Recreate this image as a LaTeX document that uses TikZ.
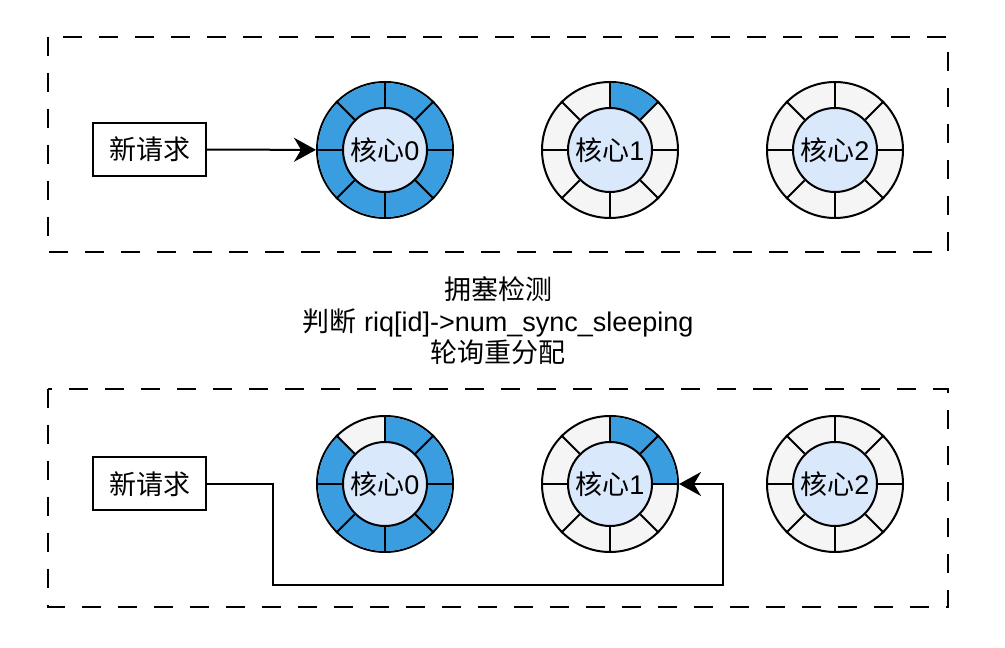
\documentclass[tikz,border=0pt]{standalone}
\usepackage{fontspec}
\setmainfont{Liberation Sans}
\newfontfamily\cjk{Noto Sans CJK SC}
\usetikzlibrary{arrows.meta,positioning}
\definecolor{coreblue}{RGB}{58,157,224}
\definecolor{ringgray}{RGB}{245,245,245}
\definecolor{hubblue}{RGB}{218,232,252}
\newcommand{\zh}[1]{{\cjk #1}}
\tikzset{tipflow/.tip={Stealth[length=22pt 0,width=24pt 0,inset=7pt 0]}}
\begin{document}
\begin{tikzpicture}[x=1pt,y=1pt,node distance=225pt,font=\fontsize{27}{31.5}\selectfont]
\tikzstyle{zone}=[draw,line width=2pt,dash pattern=on 19pt off 17pt]
\tikzstyle{req}=[draw,line width=2pt,minimum width=113pt,minimum height=53pt,inner sep=0pt]
\tikzstyle{ring}=[draw,circle,line width=2pt,fill=ringgray,minimum size=136pt,inner sep=0pt]
\tikzstyle{hub}=[draw,circle,line width=2pt,fill=hubblue,minimum size=84pt,inner sep=0pt]
\tikzstyle{flow}=[line width=2pt,-tipflow]
\useasboundingbox (0,0) rectangle (1005,648);
% dashed areas
\draw[zone] (48,611) rectangle (948,396);
\draw[zone] (48,259) rectangle (948,41);
% requests
\node[req] (reqa) at (149.5,498.5) {\zh{新请求}};
\node[req] (reqb) at (149.5,164) {\zh{新请求}};
% cores, before
\node[ring] (ring0a) at (385,498) {};
\node[ring,right of=ring0a] (ring1a) {};
\node[ring,right of=ring1a] (ring2a) {};
% cores, after
\node[ring] (ring0b) at (385,164) {};
\node[ring,right of=ring0b] (ring1b) {};
\node[ring,right of=ring1b] (ring2b) {};
% busy slots
\foreach \c/\a in {ring0a/0,ring0a/45,ring0a/90,ring0a/135,ring0a/180,ring0a/225,ring0a/270,ring0a/315,
    ring1a/45,
    ring0b/0,ring0b/45,ring0b/135,ring0b/180,ring0b/225,ring0b/270,ring0b/315,
    ring1b/0,ring1b/45}
  \fill[coreblue] (\c.center) -- ++(\a:67pt) arc[start angle=\a,delta angle=45,radius=67pt] -- cycle;
% hubs and spokes
\foreach \n/\t in {0a/0,1a/1,2a/2,0b/0,1b/1,2b/2}{
  \node[hub] (hub\n) at (ring\n) {\zh{核心}\t};
  \foreach \a in {0,45,...,315}
    \draw[line width=2pt] (hub\n.\a) -- (ring\n.\a);
}
% note
\node[align=center] (note) at (498,327) {\zh{拥塞检测}\\\zh{判断} riq[id]->num\_sync\_sleeping\\\zh{轮询重分配}};
% connectors
\coordinate (loopa) at (273,63);
\coordinate (loopb) at (723,63);
\draw[flow] (reqa) -- (ring0a);
\draw[flow] (reqb.east) -| (loopa) -- (loopb) |- (ring1b.east);
\end{tikzpicture}
\end{document}
